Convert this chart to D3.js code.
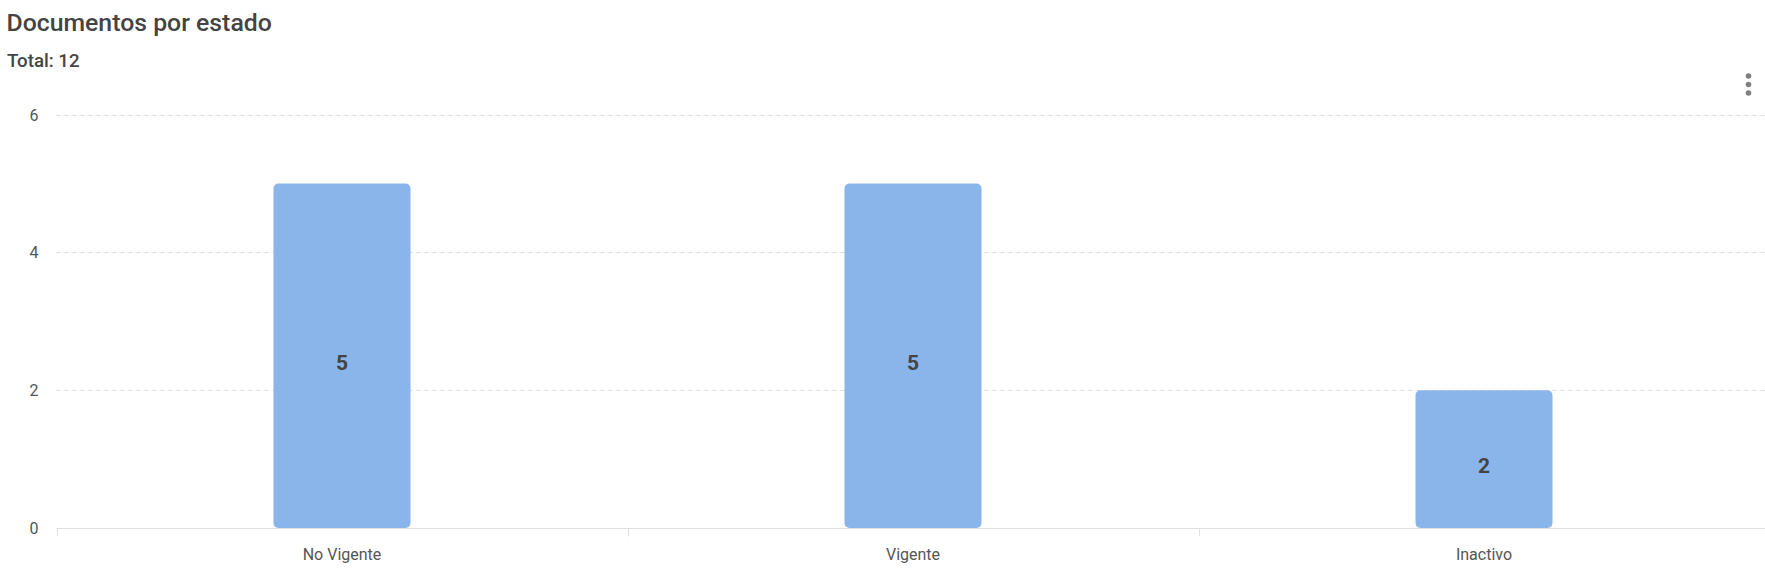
<!DOCTYPE html>
<html><head><meta charset="utf-8">
<script src="https://cdn.jsdelivr.net/npm/d3@7"></script>
<style>
html,body{margin:0;padding:0;background:#fff;overflow:hidden;}
text{font-family:Roboto,"Noto Sans",sans-serif;}
</style></head>
<body>
<svg id="chart" width="1765" height="572"></svg>
<script>
const titleText = "Documentos por estado";
const categories = ["No Vigente", "Vigente", "Inactivo"];
const values = [5, 5, 2];
const yTicks = [0, 2, 4, 6];
const totalLabel = "Total: " + d3.sum(values);

const svg = d3.select("#chart");
const margin = {left: 56.5, right: 1769.5, top: 114.7, bottom: 528};

const x = d3.scaleBand().domain(categories).range([margin.left, margin.right]).paddingInner(0).paddingOuter(0);
const y = d3.scaleLinear().domain([0, 6]).range([margin.bottom, margin.top]);

svg.append("text").attr("x", 6.5).attr("y", 30.5).attr("font-size", 24.8).attr("font-weight", 500).attr("fill", "#444")
  .text(titleText);
svg.append("text").attr("x", 7).attr("y", 66.5).attr("font-size", 18.7).attr("font-weight", 500).attr("fill", "#444")
  .text(totalLabel);

// kebab menu
svg.append("g").selectAll("circle").data([0,1,2]).join("circle")
  .attr("cx", 1748.5).attr("cy", d => 76 + d * 8.5).attr("r", 2.8).attr("fill", "#808080");

// grid
svg.append("g").selectAll("line").data(yTicks.filter(d => d > 0)).join("line")
  .attr("x1", margin.left).attr("x2", 1765)
  .attr("y1", d => Math.round(y(d)) + 0.5).attr("y2", d => Math.round(y(d)) + 0.5)
  .attr("stroke", "#dcdcdc").attr("stroke-dasharray", "4,4");

// y labels
svg.append("g").selectAll("text").data(yTicks).join("text")
  .attr("x", 38.5).attr("y", d => y(d) + 5.8).attr("text-anchor", "end")
  .attr("font-size", 16).attr("fill", "#555").text(d => d);

// x axis
const xAxis = d3.axisBottom(x).tickSize(8).tickSizeOuter(0).tickFormat("");
const gx = svg.append("g").attr("transform", `translate(0,${Math.round(y(0)) + 0.5})`).call(xAxis);
gx.select(".domain").attr("stroke", "#e0e0e0").attr("d", `M${margin.left},0H1765`);
gx.selectAll(".tick").remove();
const bounds = d3.range(categories.length).map(i => margin.left + i * x.step());
gx.selectAll("line.b").data(bounds).join("line").attr("class","b")
  .attr("x1", d => Math.round(d) + 0.5).attr("x2", d => Math.round(d) + 0.5)
  .attr("y1", 0).attr("y2", 8).attr("stroke", "#e0e0e0");

svg.append("g").selectAll("text").data(categories).join("text")
  .attr("x", d => x(d) + x.bandwidth() / 2).attr("y", 560)
  .attr("text-anchor", "middle").attr("font-size", 16).attr("fill", "#555").text(d => d);

// bars
const bw = x.bandwidth() * 0.24;
svg.append("g").selectAll("rect").data(values).join("rect")
  .attr("x", (d, i) => x(categories[i]) + x.bandwidth() / 2 - bw / 2)
  .attr("width", bw)
  .attr("y", d => y(d)).attr("height", d => y(0) - y(d))
  .attr("rx", 5).attr("ry", 5)
  .attr("fill", "#8ab5eb");

svg.append("g").selectAll("text").data(values).join("text")
  .attr("x", (d, i) => x(categories[i]) + x.bandwidth() / 2)
  .attr("y", d => (y(d) + y(0)) / 2 + 14)
  .attr("text-anchor", "middle").attr("font-size", 21).attr("font-weight", 700).attr("fill", "#444")
  .text(d => d);
</script>
</body></html>
